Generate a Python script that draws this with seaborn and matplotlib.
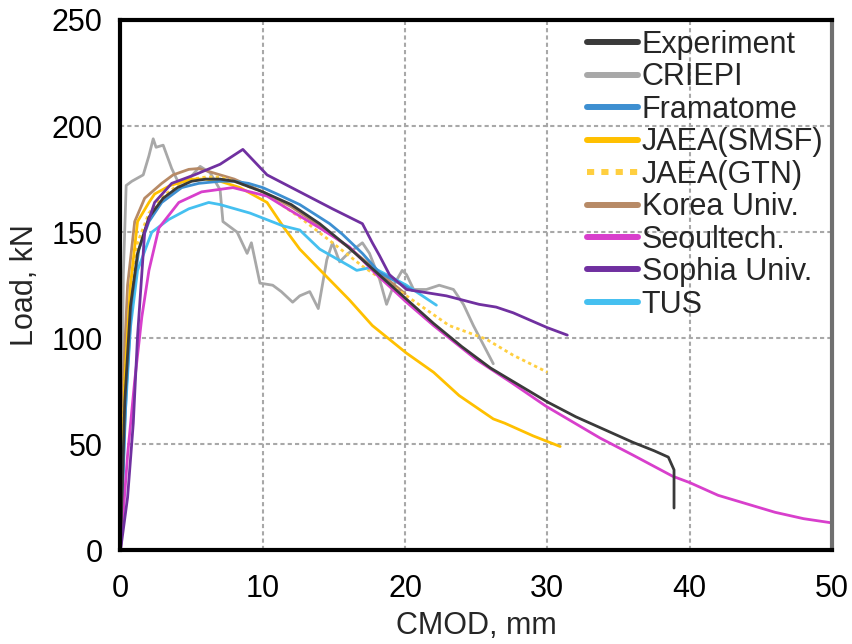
import numpy as np
import pandas as pd
import matplotlib
matplotlib.use("Agg")
import matplotlib.pyplot as plt
import seaborn as sns

# ---------------- data ----------------
exp_x = [0, 0.3, 0.7, 1.2, 2, 3, 4, 5, 6, 7, 8, 10, 12, 14, 16, 18, 20, 22, 24, 26, 28, 30, 32, 34, 36, 37.5, 38.5, 38.9, 38.9]
exp_y = [0, 70, 115, 140, 157, 166, 171, 174, 175, 175, 174, 169, 163, 154, 143, 131, 119, 107, 96, 86, 78, 70, 63, 57, 51, 47, 44, 38, 20]

criepi_x = [0, 0.2, 0.4, 0.8, 1.6, 2.0, 2.3, 2.5, 3.0, 3.6, 4.1, 4.8, 5.6, 6.3, 7.0, 7.2, 8.2, 8.9, 9.2, 9.8, 10.7, 11.3, 12.1, 12.6, 13.3, 13.9, 14.5, 14.9, 15.4, 16.0, 17.0, 17.5, 18.2, 18.7, 19.2, 19.8, 20.1, 20.6, 21.5, 22.4, 23.4, 24.1, 24.8, 25.5, 26.2]
criepi_y = [0, 130, 172, 174, 177, 186, 194, 190, 191, 180, 173, 175, 181, 178, 170, 155, 150, 140, 145, 126, 125, 122, 117, 120, 122, 114, 137, 145, 136, 140, 145, 140, 128, 116, 125, 132, 130, 123, 123, 125, 123, 116, 106, 97, 88]

fra_x = [0, 0.4, 0.8, 1.3, 2, 2.9, 4.3, 5.5, 7, 8, 9, 10, 11, 12.6, 14.7, 15.6, 17, 18.2, 19.3, 20.5]
fra_y = [0, 75, 118, 142, 155, 164, 171, 173, 174, 174, 173, 171, 168, 163, 154, 149, 140, 131, 127, 122.6]

smsf_x = [0, 0.3, 0.7, 1.2, 2, 2.4, 3.5, 5, 6, 7, 8.4, 10.3, 11.5, 12.6, 14.2, 16.1, 17.7, 20.1, 22, 23.8, 26.2, 27, 29, 30.9]
smsf_y = [0, 80, 125, 155, 164, 168, 172, 175, 175, 174, 171, 164, 152, 142, 131, 118, 106, 93, 84, 73, 62, 60, 54, 49]

gtn_x = [0, 0.3, 0.7, 1.2, 2, 3, 4, 5, 6, 7, 8, 10, 12.6, 14.9, 17, 20.1, 23.1, 25.7, 27.6, 30]
gtn_y = [0, 78, 122, 145, 159, 167, 172, 175, 176, 176, 174, 169, 157, 145, 134, 120, 106, 99.6, 92, 84]

korea_x = [0, 0.2, 0.5, 1.0, 1.7, 2.9, 3.7, 4.8, 5.5, 6.5, 8, 10, 12, 14, 16, 18, 20]
korea_y = [0, 80, 125, 155, 166, 173, 177, 179.6, 180, 178, 175, 169, 162, 153, 143, 132, 121]

seoul_x = [0, 0.5, 1.0, 1.5, 2.0, 2.7, 4.1, 5.7, 7.9, 10.3, 12, 14, 16.1, 18, 20.1, 22, 25, 27.5, 29.9, 33.7, 36, 38.8, 40, 42, 44, 46, 48, 50]
seoul_y = [0, 45, 80, 110, 132, 152, 164, 169, 171, 167, 160, 152, 143, 130, 117, 106, 90, 79, 68, 53, 45, 35, 32, 26, 22, 18, 15, 13]

sophia_x = [0, 0.5, 0.9, 1.2, 1.7, 2.4, 3.6, 5.2, 7, 8.6, 10.3, 12.6, 14.9, 17, 17.7, 18.2, 18.9, 20.1, 22.9, 25.2, 26.4, 27.6, 30, 31.4]
sophia_y = [0, 25, 60, 101, 150, 164, 173, 177, 182, 189, 177, 169, 161, 154, 145, 139, 130, 123, 120, 116, 114.7, 112, 105, 101.5]

tus_x = [0, 0.3, 0.7, 1.2, 2.2, 3.4, 4.8, 6.2, 7, 9.1, 11.4, 12.6, 14, 16.1, 16.6, 17.7, 20.1, 22.2]
tus_y = [0, 60, 105, 132, 150, 156, 161, 164, 163, 159, 153, 151, 142, 134, 132, 133.5, 125, 115.6]

series_names = ["Experiment", "CRIEPI", "Framatome", "JAEA(SMSF)", "JAEA(GTN)",
                "Korea Univ.", "Seoultech.", "Sophia Univ.", "TUS"]
series_x = [exp_x, criepi_x, fra_x, smsf_x, gtn_x, korea_x, seoul_x, sophia_x, tus_x]
series_y = [exp_y, criepi_y, fra_y, smsf_y, gtn_y, korea_y, seoul_y, sophia_y, tus_y]

x_ticks = [0, 10, 20, 30, 40, 50]
y_ticks = [0, 50, 100, 150, 200, 250]

# ---------------- styles ----------------
colors = {"Experiment": "#3a3a3a", "CRIEPI": "#a8a8a8", "Framatome": "#3d8fd1",
          "JAEA(SMSF)": "#ffc000", "JAEA(GTN)": "#ffcf40", "Korea Univ.": "#b78a66",
          "Seoultech.": "#d83fcc", "Sophia Univ.": "#7030a0", "TUS": "#45c0f0"}
styles = {n: "-" for n in series_names}
styles["JAEA(GTN)"] = (0, (1.2, 1.2))

frames = []
for n, xs, ys in zip(series_names, series_x, series_y):
    frames.append(pd.DataFrame({"series": n, "cmod": xs, "load": ys, "idx": range(len(xs))}))
df = pd.concat(frames, ignore_index=True)

sns.set_style("white")
plt.rcParams["font.family"] = ["Liberation Sans", "DejaVu Sans"]

fig = plt.figure(figsize=(8.52, 6.44), dpi=100)
ax = fig.add_axes([0.1414, 0.1452, 0.9765 - 0.1414, 0.969 - 0.1452])

draw_order = ["CRIEPI", "Korea Univ.", "JAEA(GTN)", "JAEA(SMSF)", "TUS", "Framatome",
              "Seoultech.", "Experiment", "Sophia Univ."]
for n in draw_order:
    sub = df[df["series"] == n]
    sns.lineplot(data=sub, x="cmod", y="load", sort=False, estimator=None, ax=ax,
                 color=colors[n], linestyle=styles[n], linewidth=2.0, label=n)

ax.set_xlim(0, 50)
ax.set_ylim(0, 250)
ax.set_xticks(x_ticks)
ax.set_yticks(y_ticks)
ax.set_xticklabels([str(t) for t in x_ticks])
ax.set_yticklabels([str(t) for t in y_ticks])
ax.tick_params(axis="both", length=0, labelsize=22, colors="black")
ax.tick_params(axis="x", pad=17)
ax.tick_params(axis="y", pad=13)
ax.set_xlabel("CMOD, mm", fontsize=22, labelpad=5)
ax.set_ylabel("Load, kN", fontsize=22, labelpad=8)

ax.grid(True, color="#a8a8a8", linestyle=(0, (2, 1.5)), linewidth=1.5)
ax.set_axisbelow(True)
for side in ["left", "top", "bottom"]:
    ax.spines[side].set_color("black")
    ax.spines[side].set_linewidth(3)
ax.spines["right"].set_color("#707070")
ax.spines["right"].set_linewidth(3)

handles, labels = ax.get_legend_handles_labels()
hmap = dict(zip(labels, handles))
leg = ax.legend([hmap[n] for n in series_names], series_names,
                loc="upper left", bbox_to_anchor=(587 / 852, 1 - 30 / 644),
                bbox_transform=fig.transFigure, frameon=False, fontsize=22,
                handlelength=1.67, handletextpad=0.12, labelspacing=0.08,
                borderpad=0, borderaxespad=0)
for h in leg.legend_handles:
    h.set_linewidth(4.3)

fig.savefig("out.png", dpi=100)
